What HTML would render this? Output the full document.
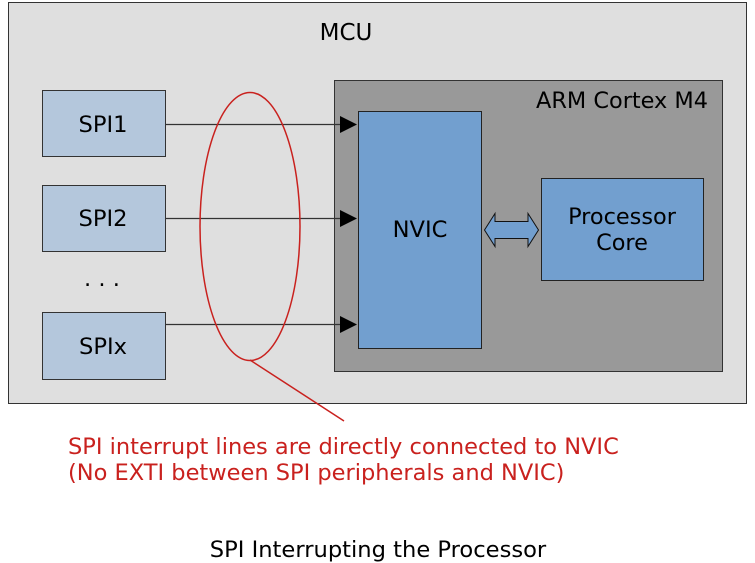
<!DOCTYPE html>
<html><head><meta charset="utf-8"><style>
html,body{margin:0;padding:0;background:#fff;}
svg{display:block;}
text{font-family:"DejaVu Sans","Liberation Sans",sans-serif;}
</style></head><body>
<svg width="755" height="563" viewBox="0 0 755 563" xmlns="http://www.w3.org/2000/svg">
<rect x="8.5" y="2.5" width="738" height="401" fill="#dfdfdf" stroke="#333" stroke-width="1"/>
<text x="346" y="40" font-size="23" text-anchor="middle" fill="#000">MCU</text>
<rect x="334.5" y="80.5" width="388" height="291" fill="#999999" stroke="#333" stroke-width="1"/>
<text x="708" y="108" font-size="22.4" text-anchor="end" fill="#000">ARM Cortex M4</text>
<rect x="358.5" y="111.5" width="123" height="237" fill="#729fcf" stroke="#222" stroke-width="1"/>
<text x="420" y="237" font-size="22.6" text-anchor="middle" fill="#000">NVIC</text>
<rect x="541.5" y="178.5" width="162" height="102" fill="#729fcf" stroke="#222" stroke-width="1"/>
<text x="622" y="224" font-size="22.4" text-anchor="middle" fill="#000">Processor</text>
<text x="622" y="250" font-size="22.4" text-anchor="middle" fill="#000">Core</text>
<polygon points="484.5,230 495,213.5 495,221.5 528,221.5 528,213.5 538.5,230 528,246.5 528,238.5 495,238.5 495,246.5" fill="#729fcf" stroke="#111" stroke-width="1"/>
<g fill="#b4c7dc" stroke="#333" stroke-width="1">
<rect x="42.5" y="90.5" width="123" height="66"/>
<rect x="42.5" y="185.5" width="123" height="66"/>
<rect x="42.5" y="312.5" width="123" height="67"/>
</g>
<g font-size="22.6" text-anchor="middle" fill="#000">
<text x="103" y="132">SPI1</text>
<text x="103" y="226">SPI2</text>
<text x="103" y="354">SPIx</text>
<text x="102" y="286">. . .</text>
</g>
<g stroke="#333" stroke-width="1.2">
<line x1="166" y1="124.5" x2="342" y2="124.5"/>
<line x1="166" y1="218.5" x2="342" y2="218.5"/>
<line x1="166" y1="324.5" x2="342" y2="324.5"/>
</g>
<g fill="#000">
<polygon points="340,116 357,124.5 340,133"/>
<polygon points="340,210 357,218.5 340,227"/>
<polygon points="340,316 357,324.5 340,333"/>
</g>
<ellipse cx="250" cy="226.5" rx="50" ry="134" fill="none" stroke="#c9211e" stroke-width="1.5"/>
<line x1="250" y1="360" x2="344" y2="421" stroke="#c9211e" stroke-width="1.5"/>
<text x="68" y="454" font-size="22.5" fill="#c9211e">SPI interrupt lines are directly connected to NVIC</text>
<text x="68" y="480" font-size="22.5" fill="#c9211e">(No EXTI between SPI peripherals and NVIC)</text>
<text x="378" y="557" font-size="22.6" text-anchor="middle" fill="#000">SPI Interrupting the Processor</text>
</svg>
</body></html>
